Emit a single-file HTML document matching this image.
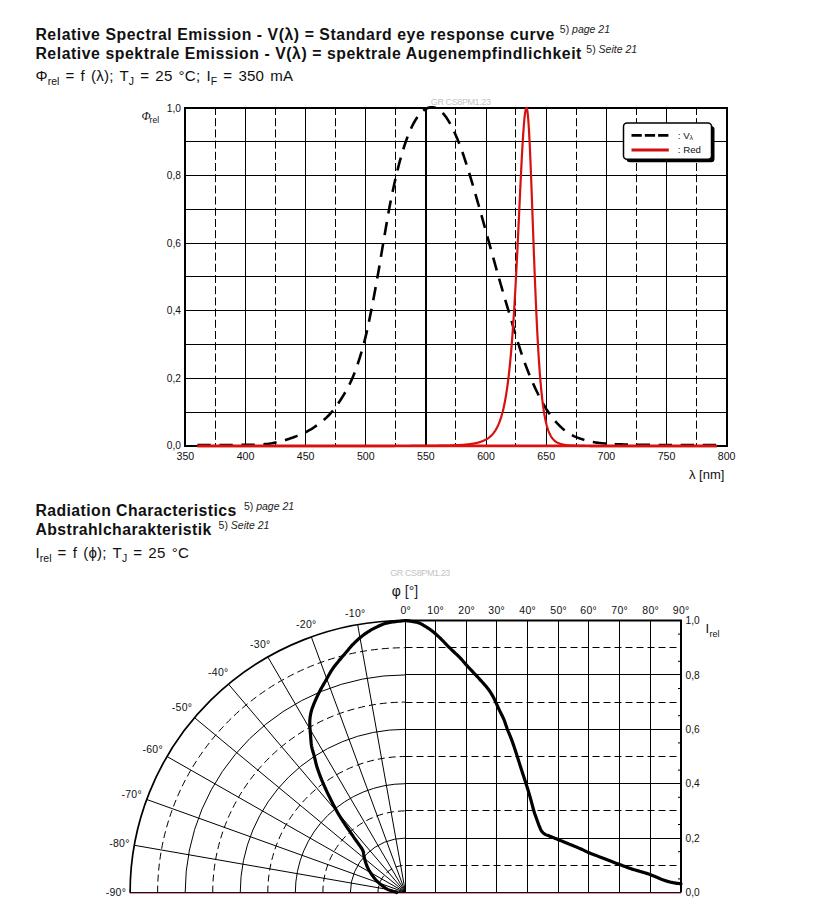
<!DOCTYPE html>
<html><head><meta charset="utf-8"><title>Relative Spectral Emission / Radiation Characteristics</title>
<style>
html,body{margin:0;padding:0;background:#fff;}
body{width:816px;height:923px;position:relative;overflow:hidden;}
svg{position:absolute;left:0;top:0;}
.g1{stroke:#000;stroke-width:1;fill:none;}
.g1b{stroke:#000;stroke-width:2;fill:none;}
.g1d{stroke:#000;stroke-width:1;stroke-dasharray:8 3.2;fill:none;}
.frame{stroke:#000;stroke-width:2;fill:none;}
.vl{stroke:#000;stroke-width:2.6;stroke-dasharray:13.3 8.7;fill:none;}
.vll{stroke:#000;stroke-width:2.8;stroke-dasharray:10.3 3;fill:none;}
.red{stroke:#d81010;stroke-width:2.2;fill:none;stroke-linejoin:round;}
.redl{stroke:#d01010;stroke-width:3;fill:none;}
.g2{stroke:#000;stroke-width:1;fill:none;}
.g2d{stroke:#000;stroke-width:1;stroke-dasharray:7 4;fill:none;}
.base{stroke:#2e0414;stroke-width:1.1;}
.c2{stroke:#000;stroke-width:3.2;fill:none;stroke-linejoin:round;stroke-linecap:round;}
text{font-family:"Liberation Sans",Arial,sans-serif;fill:#111;}
.hb{font-size:15.8px;font-weight:bold;letter-spacing:0.56px;}
.hb2{font-size:15.8px;font-weight:bold;letter-spacing:0.43px;}
.hs{font-size:15.1px;letter-spacing:0.2px;word-spacing:1.7px;}
.hsub{font-size:10.5px;letter-spacing:0;}
.sup{font-size:10.5px;fill:#222;}
.t10{font-size:10.2px;}
.t12{font-size:12px;}
.t13{font-size:13px;}
.t12i{font-size:12px;font-style:italic;font-family:"Liberation Serif",serif;}
.t8{font-size:8.5px;}
.tl{font-size:9.7px;}
.tx{font-size:10.6px;}
.td{font-size:10.5px;letter-spacing:0.3px;}
.t9{font-size:9px;}
.wm{font-size:9px;fill:#c4c4c4;letter-spacing:-0.4px;}
.phi{font-size:14px;}
</style></head><body>
<svg width="816" height="923" viewBox="0 0 816 923">
<line x1="215.50" y1="107.00" x2="215.50" y2="445.80" class="g1d"/>
<line x1="275.50" y1="107.00" x2="275.50" y2="445.80" class="g1d"/>
<line x1="335.50" y1="107.00" x2="335.50" y2="445.80" class="g1d"/>
<line x1="395.50" y1="107.00" x2="395.50" y2="445.80" class="g1d"/>
<line x1="455.50" y1="107.00" x2="455.50" y2="445.80" class="g1d"/>
<line x1="515.50" y1="107.00" x2="515.50" y2="445.80" class="g1d"/>
<line x1="576.50" y1="107.00" x2="576.50" y2="445.80" class="g1d"/>
<line x1="636.50" y1="107.00" x2="636.50" y2="445.80" class="g1d"/>
<line x1="696.50" y1="107.00" x2="696.50" y2="445.80" class="g1d"/>
<line x1="245.50" y1="108.00" x2="245.50" y2="445.80" class="g1"/>
<line x1="305.50" y1="108.00" x2="305.50" y2="445.80" class="g1"/>
<line x1="365.50" y1="108.00" x2="365.50" y2="445.80" class="g1"/>
<line x1="426.00" y1="108.00" x2="426.00" y2="445.80" class="g1b"/>
<line x1="486.50" y1="108.00" x2="486.50" y2="445.80" class="g1"/>
<line x1="546.50" y1="108.00" x2="546.50" y2="445.80" class="g1"/>
<line x1="606.50" y1="108.00" x2="606.50" y2="445.80" class="g1"/>
<line x1="666.50" y1="108.00" x2="666.50" y2="445.80" class="g1"/>
<line x1="185.40" y1="412.50" x2="726.60" y2="412.50" class="g1"/>
<line x1="185.40" y1="378.50" x2="726.60" y2="378.50" class="g1"/>
<line x1="185.40" y1="344.50" x2="726.60" y2="344.50" class="g1"/>
<line x1="185.40" y1="310.50" x2="726.60" y2="310.50" class="g1"/>
<line x1="185.40" y1="276.50" x2="726.60" y2="276.50" class="g1"/>
<line x1="185.40" y1="243.50" x2="726.60" y2="243.50" class="g1"/>
<line x1="185.40" y1="209.50" x2="726.60" y2="209.50" class="g1"/>
<line x1="185.40" y1="175.50" x2="726.60" y2="175.50" class="g1"/>
<line x1="185.40" y1="141.50" x2="726.60" y2="141.50" class="g1"/>
<rect x="185" y="108" width="542" height="338" class="frame"/>
<path d="M197.43,445.00 L198.63,445.00 L199.83,445.00 L201.03,445.00 L202.24,445.00 L203.44,445.00 L204.64,445.00 L205.85,445.00 L207.05,445.00 L208.25,445.00 L209.45,445.00 L210.66,445.00 L211.86,444.99 L213.06,444.99 L214.26,444.99 L215.47,444.99 L216.67,444.99 L217.87,444.99 L219.07,444.99 L220.28,444.99 L221.48,444.99 L222.68,444.99 L223.89,444.98 L225.09,444.98 L226.29,444.98 L227.49,444.98 L228.70,444.98 L229.90,444.97 L231.10,444.97 L232.30,444.96 L233.51,444.96 L234.71,444.95 L235.91,444.95 L237.11,444.94 L238.32,444.94 L239.52,444.93 L240.72,444.92 L241.93,444.91 L243.13,444.89 L244.33,444.88 L245.53,444.87 L246.74,444.85 L247.94,444.84 L249.14,444.83 L250.34,444.81 L251.55,444.78 L252.75,444.75 L253.95,444.72 L255.15,444.68 L256.36,444.64 L257.56,444.59 L258.76,444.54 L259.97,444.48 L261.17,444.42 L262.37,444.35 L263.57,444.26 L264.78,444.17 L265.98,444.06 L267.18,443.94 L268.38,443.81 L269.59,443.65 L270.79,443.46 L271.99,443.26 L273.19,443.03 L274.40,442.79 L275.60,442.53 L276.80,442.27 L278.01,441.99 L279.21,441.70 L280.41,441.40 L281.61,441.08 L282.82,440.75 L284.02,440.41 L285.22,440.06 L286.42,439.69 L287.63,439.31 L288.83,438.92 L290.03,438.51 L291.23,438.09 L292.44,437.67 L293.64,437.23 L294.84,436.79 L296.05,436.35 L297.25,435.90 L298.45,435.43 L299.65,434.93 L300.86,434.42 L302.06,433.89 L303.26,433.34 L304.46,432.76 L305.67,432.16 L306.87,431.54 L308.07,430.89 L309.27,430.21 L310.48,429.51 L311.68,428.79 L312.88,428.03 L314.09,427.24 L315.29,426.43 L316.49,425.59 L317.69,424.73 L318.90,423.85 L320.10,422.95 L321.30,422.02 L322.50,421.06 L323.71,420.04 L324.91,418.97 L326.11,417.88 L327.31,416.73 L328.52,415.53 L329.72,414.26 L330.92,412.92 L332.13,411.53 L333.33,410.07 L334.53,408.55 L335.73,406.96 L336.94,405.30 L338.14,403.58 L339.34,401.79 L340.54,399.94 L341.75,398.05 L342.95,396.13 L344.15,394.18 L345.35,392.17 L346.56,390.06 L347.76,387.81 L348.96,385.44 L350.17,382.98 L351.37,380.39 L352.57,377.65 L353.77,374.74 L354.98,371.65 L356.18,368.41 L357.38,365.01 L358.58,361.43 L359.79,357.64 L360.99,353.70 L362.19,349.60 L363.39,345.30 L364.60,340.75 L365.80,335.89 L367.00,330.69 L368.21,325.17 L369.41,319.40 L370.61,313.46 L371.81,307.41 L373.02,301.25 L374.22,294.91 L375.42,288.43 L376.62,281.82 L377.83,275.09 L379.03,268.17 L380.23,261.05 L381.43,253.84 L382.64,246.64 L383.84,239.55 L385.04,232.50 L386.25,225.41 L387.45,218.41 L388.65,211.62 L389.85,205.16 L391.06,199.06 L392.26,193.23 L393.46,187.65 L394.66,182.27 L395.87,177.06 L397.07,172.01 L398.27,167.15 L399.47,162.49 L400.68,158.04 L401.88,153.82 L403.08,149.82 L404.29,146.06 L405.49,142.50 L406.69,139.14 L407.89,135.95 L409.10,132.94 L410.30,130.12 L411.50,127.49 L412.70,125.03 L413.91,122.74 L415.11,120.62 L416.31,118.69 L417.51,116.92 L418.72,115.31 L419.92,113.85 L421.12,112.56 L422.33,111.43 L423.53,110.45 L424.73,109.61 L425.93,108.89 L427.14,108.29 L428.34,107.82 L429.54,107.48 L430.74,107.27 L431.95,107.20 L433.15,107.26 L434.35,107.45 L435.55,107.77 L436.76,108.25 L437.96,108.89 L439.16,109.70 L440.37,110.66 L441.57,111.78 L442.77,113.04 L443.97,114.43 L445.18,115.95 L446.38,117.61 L447.58,119.41 L448.78,121.35 L449.99,123.41 L451.19,125.62 L452.39,127.97 L453.59,130.46 L454.80,133.06 L456.00,135.78 L457.20,138.61 L458.41,141.56 L459.61,144.63 L460.81,147.82 L462.01,151.11 L463.22,154.53 L464.42,158.08 L465.62,161.73 L466.82,165.46 L468.03,169.25 L469.23,173.12 L470.43,177.08 L471.63,181.11 L472.84,185.19 L474.04,189.29 L475.24,193.41 L476.45,197.58 L477.65,201.78 L478.85,206.01 L480.05,210.26 L481.26,214.54 L482.46,218.85 L483.66,223.18 L484.86,227.51 L486.07,231.85 L487.27,236.18 L488.47,240.52 L489.67,244.87 L490.88,249.20 L492.08,253.53 L493.28,257.86 L494.49,262.20 L495.69,266.52 L496.89,270.82 L498.09,275.09 L499.30,279.31 L500.50,283.51 L501.70,287.68 L502.90,291.83 L504.11,295.96 L505.31,300.07 L506.51,304.14 L507.71,308.19 L508.92,312.24 L510.12,316.30 L511.32,320.38 L512.53,324.48 L513.73,328.56 L514.93,332.60 L516.13,336.57 L517.34,340.48 L518.54,344.36 L519.74,348.18 L520.94,351.89 L522.15,355.48 L523.35,358.93 L524.55,362.26 L525.75,365.49 L526.96,368.63 L528.16,371.70 L529.36,374.69 L530.57,377.60 L531.77,380.43 L532.97,383.19 L534.17,385.88 L535.38,388.51 L536.58,391.07 L537.78,393.56 L538.98,395.98 L540.19,398.32 L541.39,400.58 L542.59,402.76 L543.79,404.87 L545.00,406.90 L546.20,408.86 L547.40,410.72 L548.61,412.51 L549.81,414.21 L551.01,415.85 L552.21,417.44 L553.42,418.95 L554.62,420.40 L555.82,421.79 L557.02,423.12 L558.23,424.39 L559.43,425.61 L560.63,426.78 L561.83,427.88 L563.04,428.94 L564.24,429.94 L565.44,430.89 L566.65,431.80 L567.85,432.64 L569.05,433.44 L570.25,434.19 L571.46,434.88 L572.66,435.51 L573.86,436.10 L575.06,436.65 L576.27,437.16 L577.47,437.64 L578.67,438.08 L579.87,438.49 L581.08,438.88 L582.28,439.26 L583.48,439.63 L584.69,439.99 L585.89,440.34 L587.09,440.67 L588.29,440.97 L589.50,441.26 L590.70,441.53 L591.90,441.78 L593.10,442.01 L594.31,442.23 L595.51,442.43 L596.71,442.61 L597.91,442.77 L599.12,442.92 L600.32,443.07 L601.52,443.20 L602.73,443.31 L603.93,443.42 L605.13,443.52 L606.33,443.61 L607.54,443.71 L608.74,443.79 L609.94,443.87 L611.14,443.94 L612.35,444.01 L613.55,444.08 L614.75,444.14 L615.95,444.19 L617.16,444.24 L618.36,444.29 L619.56,444.34 L620.77,444.38 L621.97,444.42 L623.17,444.46 L624.37,444.50 L625.58,444.53 L626.78,444.56 L627.98,444.59 L629.18,444.62 L630.39,444.65 L631.59,444.67 L632.79,444.69 L633.99,444.71 L635.20,444.73 L636.40,444.75 L637.60,444.77 L638.81,444.78 L640.01,444.80 L641.21,444.81 L642.41,444.82 L643.62,444.84 L644.82,444.85 L646.02,444.86 L647.22,444.87 L648.43,444.88 L649.63,444.89 L650.83,444.89 L652.03,444.90 L653.24,444.91 L654.44,444.92 L655.64,444.92 L656.85,444.93 L658.05,444.93 L659.25,444.94 L660.45,444.94 L661.66,444.95 L662.86,444.95 L664.06,444.95 L665.26,444.96 L666.47,444.96 L667.67,444.96 L668.87,444.96 L670.07,444.97 L671.28,444.97 L672.48,444.97 L673.68,444.97 L674.89,444.98 L676.09,444.98 L677.29,444.98 L678.49,444.98 L679.70,444.98 L680.90,444.98 L682.10,444.98 L683.30,444.98 L684.51,444.99 L685.71,444.99 L686.91,444.99 L688.11,444.99 L689.32,444.99 L690.52,444.99 L691.72,444.99 L692.93,444.99 L694.13,444.99 L695.33,444.99 L696.53,444.99 L697.74,444.99 L698.94,444.99 L700.14,444.99 L701.34,444.99 L702.55,444.99 L703.75,445.00 L704.95,445.00 L706.15,445.00 L707.36,445.00 L708.56,445.00 L709.76,445.00 L710.97,445.00 L712.17,445.00 L713.37,445.00 L714.57,445.00 L715.78,445.00 L716.98,445.00 L718.18,445.00 L719.38,445.00 L720.59,445.00" class="vl"/>
<line x1="197.43" y1="445.9" x2="716.98" y2="445.9" stroke="#e01010" stroke-width="2.8"/>
<path d="M197.43,446.10 L199.43,446.10 L201.43,446.10 L203.43,446.10 L205.43,446.10 L207.43,446.10 L209.43,446.10 L211.43,446.10 L213.43,446.10 L215.43,446.10 L217.43,446.10 L219.43,446.10 L221.43,446.10 L223.43,446.10 L225.43,446.10 L227.43,446.10 L229.43,446.10 L231.43,446.10 L233.43,446.10 L235.43,446.10 L237.43,446.10 L239.43,446.10 L241.43,446.10 L243.43,446.10 L245.43,446.10 L247.43,446.10 L249.43,446.10 L251.43,446.10 L253.43,446.10 L255.43,446.10 L257.43,446.10 L259.43,446.10 L261.43,446.10 L263.43,446.10 L265.43,446.09 L267.43,446.09 L269.43,446.09 L271.43,446.09 L273.43,446.09 L275.43,446.09 L277.43,446.09 L279.43,446.09 L281.43,446.09 L283.43,446.09 L285.43,446.09 L287.43,446.09 L289.43,446.09 L291.43,446.09 L293.43,446.09 L295.43,446.09 L297.43,446.09 L299.43,446.09 L301.43,446.09 L303.43,446.09 L305.43,446.09 L307.43,446.09 L309.43,446.09 L311.43,446.09 L313.43,446.09 L315.43,446.09 L317.43,446.09 L319.43,446.09 L321.43,446.09 L323.43,446.09 L325.43,446.09 L327.43,446.09 L329.43,446.08 L331.43,446.08 L333.43,446.08 L335.43,446.08 L337.43,446.08 L339.43,446.08 L341.43,446.08 L343.43,446.08 L345.43,446.08 L347.43,446.08 L349.43,446.08 L351.43,446.08 L353.43,446.07 L355.43,446.07 L357.43,446.07 L359.43,446.07 L361.43,446.07 L363.43,446.07 L365.43,446.07 L367.43,446.06 L369.43,446.06 L371.43,446.06 L373.43,446.06 L375.43,446.06 L377.43,446.05 L379.43,446.05 L381.43,446.05 L383.43,446.04 L385.43,446.04 L387.43,446.04 L389.43,446.03 L391.43,446.03 L393.43,446.03 L395.43,446.02 L397.43,446.02 L399.43,446.01 L401.43,446.01 L403.43,446.00 L405.43,445.99 L407.43,445.99 L409.43,445.98 L411.43,445.97 L413.43,445.96 L415.43,445.95 L417.43,445.94 L419.43,445.93 L421.43,445.91 L423.43,445.90 L425.43,445.88 L427.43,445.87 L429.43,445.85 L431.43,445.82 L433.43,445.80 L435.43,445.77 L437.43,445.75 L439.43,445.71 L441.43,445.68 L443.43,445.64 L445.43,445.59 L447.43,445.54 L449.43,445.48 L451.43,445.41 L453.43,445.34 L455.43,445.26 L457.43,445.16 L459.43,445.05 L461.43,444.92 L463.43,444.77 L465.43,444.61 L467.43,444.41 L467.93,444.35 L468.43,444.30 L468.93,444.24 L469.43,444.18 L469.93,444.11 L470.43,444.05 L470.93,443.98 L471.43,443.91 L471.93,443.83 L472.43,443.75 L472.93,443.67 L473.43,443.59 L473.93,443.50 L474.43,443.41 L474.93,443.31 L475.43,443.21 L475.93,443.11 L476.43,443.00 L476.93,442.88 L477.43,442.76 L477.93,442.64 L478.43,442.51 L478.93,442.37 L479.43,442.22 L479.93,442.07 L480.43,441.92 L480.93,441.75 L481.43,441.58 L481.93,441.40 L482.43,441.21 L482.93,441.00 L483.43,440.79 L483.93,440.57 L484.43,440.34 L484.93,440.10 L485.43,439.84 L485.93,439.57 L486.43,439.29 L486.93,438.99 L487.43,438.67 L487.93,438.34 L488.43,437.99 L488.93,437.62 L489.43,437.23 L489.93,436.82 L490.43,436.38 L490.93,435.92 L491.43,435.43 L491.93,434.92 L492.43,434.37 L492.93,433.80 L493.43,433.19 L493.93,432.54 L494.43,431.85 L494.93,431.13 L495.43,430.36 L495.93,429.54 L496.43,428.67 L496.93,427.74 L497.43,426.76 L497.93,425.72 L498.43,424.61 L498.93,423.43 L499.43,422.17 L499.93,420.83 L500.43,419.40 L500.93,417.88 L501.43,416.26 L501.93,414.53 L502.43,412.69 L502.93,410.73 L503.43,408.63 L503.93,406.39 L504.43,404.00 L504.93,401.45 L505.43,398.72 L505.93,395.82 L506.43,392.71 L506.93,389.40 L507.43,385.87 L507.93,382.10 L508.43,378.08 L508.93,373.79 L509.43,369.22 L509.93,364.36 L510.43,359.19 L510.93,353.70 L511.43,347.86 L511.93,341.67 L512.43,335.12 L512.93,328.20 L513.43,320.89 L513.93,313.20 L514.43,305.12 L514.93,296.66 L515.43,287.81 L515.93,278.61 L516.43,269.06 L516.93,259.19 L517.43,249.04 L517.93,238.65 L518.43,228.09 L518.93,217.40 L519.43,206.67 L519.93,195.97 L520.43,185.41 L520.93,175.08 L521.43,165.08 L521.93,155.55 L522.43,146.58 L522.93,138.30 L523.43,130.82 L523.93,124.24 L524.43,118.68 L524.93,114.21 L525.43,110.91 L525.93,108.84 L526.43,108.01 L526.93,108.69 L527.43,111.26 L527.93,115.65 L528.43,121.78 L528.93,129.52 L529.43,138.70 L529.93,149.14 L530.43,160.64 L530.93,172.99 L531.43,186.00 L531.93,199.44 L532.43,213.15 L532.93,226.93 L533.43,240.63 L533.93,254.11 L534.43,267.25 L534.93,279.97 L535.43,292.18 L535.93,303.82 L536.43,314.87 L536.93,325.28 L537.43,335.05 L537.93,344.19 L538.43,352.69 L538.93,360.58 L539.43,367.88 L539.93,374.61 L540.43,380.80 L540.93,386.49 L541.43,391.70 L541.93,396.47 L542.43,400.83 L542.93,404.81 L543.43,408.44 L543.93,411.75 L544.43,414.76 L544.93,417.50 L545.43,419.99 L545.93,422.26 L546.43,424.32 L546.93,426.19 L547.43,427.90 L547.93,429.45 L548.43,430.85 L548.93,432.14 L549.43,433.30 L549.93,434.36 L550.43,435.33 L550.93,436.21 L551.43,437.01 L551.93,437.75 L552.43,438.41 L552.93,439.02 L553.43,439.58 L553.93,440.09 L554.43,440.55 L554.93,440.98 L555.43,441.37 L555.93,441.72 L556.43,442.05 L556.93,442.35 L557.43,442.63 L557.93,442.88 L558.43,443.11 L558.93,443.33 L559.43,443.52 L559.93,443.70 L560.43,443.87 L560.93,444.02 L561.43,444.17 L561.93,444.30 L562.43,444.42 L562.93,444.53 L563.43,444.63 L563.93,444.73 L564.43,444.82 L564.93,444.90 L565.43,444.98 L565.93,445.05 L566.43,445.11 L566.93,445.18 L567.43,445.23 L567.93,445.29 L568.43,445.33 L568.93,445.38 L569.43,445.42 L569.93,445.46 L570.43,445.50 L570.93,445.54 L571.43,445.57 L571.93,445.60 L572.43,445.63 L572.93,445.65 L573.43,445.68 L573.93,445.70 L574.43,445.72 L574.93,445.74 L575.43,445.76 L575.93,445.78 L576.43,445.80 L576.93,445.81 L577.43,445.83 L577.93,445.84 L578.43,445.86 L578.93,445.87 L579.43,445.88 L579.93,445.89 L580.43,445.90 L580.93,445.91 L581.43,445.92 L581.93,445.93 L582.43,445.94 L582.93,445.95 L583.43,445.95 L583.93,445.96 L584.43,445.97 L584.93,445.97 L585.43,445.98 L585.93,445.98 L586.43,445.99 L586.93,445.99 L588.93,446.01 L590.93,446.03 L592.93,446.04 L594.93,446.05 L596.93,446.06 L598.93,446.06 L600.93,446.07 L602.93,446.07 L604.93,446.08 L606.93,446.08 L608.93,446.08 L610.93,446.08 L612.93,446.09 L614.93,446.09 L616.93,446.09 L618.93,446.09 L620.93,446.09 L622.93,446.09 L624.93,446.09 L626.93,446.09 L628.93,446.09 L630.93,446.10 L632.93,446.10 L634.93,446.10 L636.93,446.10 L638.93,446.10 L640.93,446.10 L642.93,446.10 L644.93,446.10 L646.93,446.10 L648.93,446.10 L650.93,446.10 L652.93,446.10 L654.93,446.10 L656.93,446.10 L658.93,446.10 L660.93,446.10 L662.93,446.10 L664.93,446.10 L666.93,446.10 L668.93,446.10 L670.93,446.10 L672.93,446.10 L674.93,446.10 L676.93,446.10 L678.93,446.10 L680.93,446.10 L682.93,446.10 L684.93,446.10 L686.93,446.10 L688.93,446.10 L690.93,446.10 L692.93,446.10 L694.93,446.10 L696.93,446.10 L698.93,446.10 L700.93,446.10 L702.93,446.10 L704.93,446.10 L706.93,446.10 L708.93,446.10 L710.93,446.10 L712.93,446.10 L714.93,446.10 L716.93,446.10 L716.98,446.10" class="red"/>
<text x="181" y="449.40" class="t10" text-anchor="end">0,0</text>
<text x="181" y="381.84" class="t10" text-anchor="end">0,2</text>
<text x="181" y="314.28" class="t10" text-anchor="end">0,4</text>
<text x="181" y="246.72" class="t10" text-anchor="end">0,6</text>
<text x="181" y="179.16" class="t10" text-anchor="end">0,8</text>
<text x="181" y="111.60" class="t10" text-anchor="end">1,0</text>
<text x="185.40" y="459.8" class="tx" text-anchor="middle">350</text>
<text x="245.53" y="459.8" class="tx" text-anchor="middle">400</text>
<text x="305.67" y="459.8" class="tx" text-anchor="middle">450</text>
<text x="365.80" y="459.8" class="tx" text-anchor="middle">500</text>
<text x="425.93" y="459.8" class="tx" text-anchor="middle">550</text>
<text x="486.07" y="459.8" class="tx" text-anchor="middle">600</text>
<text x="546.20" y="459.8" class="tx" text-anchor="middle">650</text>
<text x="606.33" y="459.8" class="tx" text-anchor="middle">700</text>
<text x="666.47" y="459.8" class="tx" text-anchor="middle">750</text>
<text x="726.60" y="459.8" class="tx" text-anchor="middle">800</text>
<text x="689" y="478.8" class="t13">&#955; [nm]</text>
<text x="141.5" y="120" class="t12i">&#934;</text><text x="149.6" y="122.6" class="t8">rel</text>
<text x="430.8" y="104.9" class="wm">GR CS8PM1.23</text>
<rect x="626.5" y="125.9" width="88" height="36.4" rx="3.5" fill="#000"/>
<rect x="623.5" y="122.9" width="88" height="36.4" rx="3.5" fill="#fff" stroke="#000" stroke-width="1.5"/>
<line x1="631.5" y1="135.4" x2="668.8" y2="135.4" class="vll"/>
<line x1="631.5" y1="150" x2="668.8" y2="150" class="redl"/>
<text x="677.8" y="138.8" class="tl">: V<tspan font-size="6.5" dy="1.6">&#955;</tspan></text>
<text x="677.8" y="153.3" class="tl">: Red</text>
<line x1="435.50" y1="620.50" x2="435.50" y2="892.50" class="g2"/>
<line x1="466.50" y1="620.50" x2="466.50" y2="892.50" class="g2"/>
<line x1="496.50" y1="620.50" x2="496.50" y2="892.50" class="g2"/>
<line x1="527.50" y1="620.50" x2="527.50" y2="892.50" class="g2"/>
<line x1="558.50" y1="620.50" x2="558.50" y2="892.50" class="g2"/>
<line x1="588.50" y1="620.50" x2="588.50" y2="892.50" class="g2"/>
<line x1="619.50" y1="620.50" x2="619.50" y2="892.50" class="g2"/>
<line x1="650.50" y1="620.50" x2="650.50" y2="892.50" class="g2"/>
<line x1="405.50" y1="865.50" x2="681.00" y2="865.50" class="g2d"/>
<line x1="405.50" y1="838.50" x2="681.00" y2="838.50" class="g2"/>
<line x1="405.50" y1="810.50" x2="681.00" y2="810.50" class="g2d"/>
<line x1="405.50" y1="783.50" x2="681.00" y2="783.50" class="g2"/>
<line x1="405.50" y1="756.50" x2="681.00" y2="756.50" class="g2d"/>
<line x1="405.50" y1="729.50" x2="681.00" y2="729.50" class="g2"/>
<line x1="405.50" y1="702.50" x2="681.00" y2="702.50" class="g2d"/>
<line x1="405.50" y1="674.50" x2="681.00" y2="674.50" class="g2"/>
<line x1="405.50" y1="647.50" x2="681.00" y2="647.50" class="g2d"/>
<line x1="678.00" y1="878.90" x2="681.00" y2="878.90" class="g2"/>
<line x1="678.00" y1="851.70" x2="681.00" y2="851.70" class="g2"/>
<line x1="678.00" y1="824.50" x2="681.00" y2="824.50" class="g2"/>
<line x1="678.00" y1="797.30" x2="681.00" y2="797.30" class="g2"/>
<line x1="678.00" y1="770.10" x2="681.00" y2="770.10" class="g2"/>
<line x1="678.00" y1="742.90" x2="681.00" y2="742.90" class="g2"/>
<line x1="678.00" y1="715.70" x2="681.00" y2="715.70" class="g2"/>
<line x1="678.00" y1="688.50" x2="681.00" y2="688.50" class="g2"/>
<line x1="678.00" y1="661.30" x2="681.00" y2="661.30" class="g2"/>
<line x1="678.00" y1="634.10" x2="681.00" y2="634.10" class="g2"/>
<line x1="405.50" y1="892.50" x2="357.68" y2="624.63" class="g2"/>
<line x1="405.50" y1="892.50" x2="311.31" y2="636.90" class="g2"/>
<line x1="405.50" y1="892.50" x2="267.80" y2="656.94" class="g2"/>
<line x1="405.50" y1="892.50" x2="228.48" y2="684.14" class="g2"/>
<line x1="405.50" y1="892.50" x2="194.53" y2="717.66" class="g2"/>
<line x1="405.50" y1="892.50" x2="167.00" y2="756.50" class="g2"/>
<line x1="405.50" y1="892.50" x2="146.71" y2="799.47" class="g2"/>
<line x1="405.50" y1="892.50" x2="134.28" y2="845.27" class="g2"/>
<path d="M377.96,892.50 A27.54,27.20 0 0 1 405.50,865.30" class="g2d"/>
<path d="M350.42,892.50 A55.08,54.40 0 0 1 405.50,838.10" class="g2"/>
<path d="M322.88,892.50 A82.62,81.60 0 0 1 405.50,810.90" class="g2d"/>
<path d="M295.34,892.50 A110.16,108.80 0 0 1 405.50,783.70" class="g2"/>
<path d="M267.80,892.50 A137.70,136.00 0 0 1 405.50,756.50" class="g2d"/>
<path d="M240.26,892.50 A165.24,163.20 0 0 1 405.50,729.30" class="g2"/>
<path d="M212.72,892.50 A192.78,190.40 0 0 1 405.50,702.10" class="g2d"/>
<path d="M185.18,892.50 A220.32,217.60 0 0 1 405.50,674.90" class="g2"/>
<path d="M157.64,892.50 A247.86,244.80 0 0 1 405.50,647.70" class="g2d"/>
<line x1="405.50" y1="620.50" x2="405.50" y2="892.50" class="g2"/>
<path d="M130.10,892.50 A275.40,272.00 0 0 1 405.50,620.50" class="frame" style="stroke-width:1.7"/>
<path d="M405.00,620.50 L681.00,620.50 L681.00,892.50" class="frame"/>
<line x1="129.60" y1="893.50" x2="681.00" y2="893.50" stroke="#c89aa6" stroke-width="1"/>
<line x1="129.60" y1="892.50" x2="681.00" y2="892.50" class="base"/>
<path d="M405.50,620.50 L406.08,620.58 L406.85,620.69 L407.77,620.82 L408.79,620.96 L409.86,621.11 L410.92,621.27 L411.94,621.43 L412.85,621.59 L413.68,621.73 L414.48,621.86 L415.25,621.99 L416.01,622.13 L416.76,622.29 L417.50,622.47 L418.25,622.69 L419.00,622.95 L419.76,623.26 L420.53,623.63 L421.30,624.03 L422.07,624.46 L422.82,624.90 L423.57,625.35 L424.29,625.79 L425.00,626.21 L425.68,626.61 L426.33,627.00 L426.97,627.39 L427.59,627.78 L428.21,628.17 L428.82,628.58 L429.45,629.02 L430.10,629.48 L430.76,629.96 L431.42,630.46 L432.08,630.98 L432.75,631.52 L433.43,632.07 L434.11,632.64 L434.80,633.22 L435.50,633.83 L436.21,634.45 L436.93,635.09 L437.66,635.74 L438.39,636.41 L439.14,637.10 L439.88,637.81 L440.64,638.53 L441.39,639.27 L442.15,640.04 L442.93,640.84 L443.71,641.67 L444.49,642.51 L445.27,643.36 L446.05,644.20 L446.83,645.01 L447.59,645.80 L448.33,646.54 L449.06,647.26 L449.78,647.96 L450.50,648.65 L451.22,649.34 L451.95,650.04 L452.70,650.76 L453.48,651.51 L454.29,652.28 L455.13,653.07 L456.00,653.87 L456.87,654.69 L457.75,655.51 L458.62,656.35 L459.47,657.19 L460.30,658.04 L461.09,658.88 L461.84,659.72 L462.57,660.56 L463.30,661.42 L464.04,662.29 L464.81,663.19 L465.62,664.13 L466.50,665.11 L467.45,666.14 L468.47,667.24 L469.53,668.37 L470.62,669.53 L471.72,670.69 L472.81,671.85 L473.88,672.99 L474.90,674.08 L475.89,675.15 L476.87,676.21 L477.84,677.25 L478.80,678.28 L479.74,679.30 L480.65,680.30 L481.54,681.28 L482.40,682.24 L483.23,683.17 L484.03,684.06 L484.80,684.93 L485.55,685.78 L486.28,686.63 L487.00,687.50 L487.70,688.39 L488.40,689.32 L489.08,690.25 L489.72,691.18 L490.35,692.11 L490.96,693.06 L491.58,694.05 L492.20,695.10 L492.84,696.24 L493.50,697.48 L494.20,698.85 L494.93,700.37 L495.67,701.98 L496.42,703.65 L497.17,705.32 L497.91,706.97 L498.62,708.54 L499.29,709.99 L499.93,711.32 L500.56,712.57 L501.17,713.77 L501.76,714.92 L502.34,716.05 L502.89,717.18 L503.43,718.33 L503.94,719.51 L504.42,720.72 L504.87,721.94 L505.28,723.16 L505.68,724.39 L506.08,725.62 L506.48,726.85 L506.90,728.07 L507.35,729.30 L507.83,730.52 L508.33,731.75 L508.84,732.97 L509.37,734.20 L509.89,735.42 L510.40,736.64 L510.90,737.87 L511.38,739.09 L511.84,740.33 L512.30,741.59 L512.75,742.86 L513.18,744.12 L513.61,745.37 L514.02,746.59 L514.41,747.76 L514.79,748.88 L515.14,749.91 L515.45,750.85 L515.73,751.72 L516.01,752.57 L516.29,753.44 L516.58,754.36 L516.91,755.37 L517.27,756.50 L517.67,757.74 L518.08,759.05 L518.52,760.43 L518.97,761.87 L519.45,763.37 L519.94,764.93 L520.46,766.54 L520.99,768.20 L521.57,769.97 L522.19,771.90 L522.85,773.92 L523.53,775.98 L524.19,778.02 L524.83,779.98 L525.43,781.80 L525.95,783.43 L526.40,784.85 L526.81,786.12 L527.17,787.26 L527.50,788.32 L527.81,789.33 L528.12,790.33 L528.42,791.34 L528.74,792.40 L529.06,793.49 L529.37,794.56 L529.68,795.62 L529.98,796.67 L530.28,797.74 L530.59,798.82 L530.90,799.94 L531.22,801.11 L531.56,802.34 L531.90,803.65 L532.26,805.01 L532.62,806.38 L532.97,807.74 L533.33,809.05 L533.67,810.30 L534.01,811.44 L534.33,812.48 L534.64,813.43 L534.95,814.31 L535.25,815.15 L535.55,815.97 L535.86,816.79 L536.17,817.63 L536.49,818.52 L536.83,819.46 L537.17,820.44 L537.53,821.44 L537.88,822.44 L538.24,823.43 L538.60,824.39 L538.94,825.29 L539.28,826.13 L539.60,826.91 L539.90,827.65 L540.19,828.34 L540.48,829.01 L540.78,829.63 L541.08,830.22 L541.41,830.77 L541.76,831.30 L542.13,831.78 L542.50,832.22 L542.89,832.62 L543.29,832.98 L543.71,833.33 L544.16,833.65 L544.65,833.97 L545.17,834.29 L545.72,834.60 L546.29,834.87 L546.89,835.12 L547.51,835.36 L548.18,835.61 L548.88,835.87 L549.64,836.15 L550.44,836.47 L551.31,836.82 L552.23,837.19 L553.20,837.59 L554.22,838.00 L555.26,838.42 L556.33,838.85 L557.41,839.29 L558.50,839.73 L559.58,840.17 L560.67,840.62 L561.78,841.07 L562.90,841.53 L564.06,842.01 L565.26,842.50 L566.50,843.01 L567.80,843.54 L569.19,844.11 L570.69,844.71 L572.25,845.33 L573.84,845.97 L575.42,846.61 L576.97,847.24 L578.44,847.86 L579.80,848.44 L580.99,848.97 L582.03,849.46 L582.98,849.93 L583.89,850.39 L584.84,850.86 L585.88,851.36 L587.08,851.91 L588.50,852.52 L590.17,853.20 L592.04,853.94 L594.06,854.73 L596.17,855.54 L598.34,856.37 L600.50,857.20 L602.61,858.00 L604.62,858.77 L606.55,859.52 L608.48,860.26 L610.39,861.00 L612.27,861.73 L614.13,862.45 L615.96,863.15 L617.75,863.83 L619.50,864.48 L621.17,865.11 L622.74,865.71 L624.26,866.29 L625.76,866.85 L627.27,867.40 L628.82,867.96 L630.46,868.52 L632.21,869.11 L634.10,869.70 L636.11,870.29 L638.20,870.89 L640.34,871.49 L642.49,872.10 L644.61,872.72 L646.67,873.35 L648.64,874.00 L650.54,874.70 L652.44,875.44 L654.30,876.22 L656.12,877.00 L657.89,877.76 L659.59,878.48 L661.19,879.14 L662.70,879.72 L664.08,880.21 L665.33,880.64 L666.49,881.01 L667.58,881.35 L668.63,881.65 L669.68,881.92 L670.74,882.18 L671.85,882.44 L673.06,882.68 L674.35,882.90 L675.68,883.11 L677.00,883.29 L678.24,883.45 L679.36,883.58 L680.29,883.70 L681.00,883.80" class="c2"/>
<path d="M405.50,620.50 L404.58,620.60 L403.35,620.73 L401.87,620.88 L400.24,621.05 L398.54,621.23 L396.84,621.43 L395.22,621.63 L393.77,621.84 L392.46,622.03 L391.20,622.23 L389.97,622.42 L388.77,622.63 L387.59,622.86 L386.42,623.12 L385.26,623.43 L384.09,623.78 L382.91,624.19 L381.73,624.66 L380.56,625.17 L379.39,625.71 L378.25,626.27 L377.13,626.83 L376.03,627.39 L374.98,627.92 L373.97,628.44 L373.00,628.95 L372.06,629.45 L371.15,629.95 L370.24,630.47 L369.35,631.01 L368.44,631.57 L367.52,632.17 L366.58,632.79 L365.64,633.44 L364.70,634.10 L363.76,634.79 L362.83,635.50 L361.89,636.23 L360.95,636.98 L360.02,637.76 L359.09,638.55 L358.16,639.37 L357.23,640.21 L356.30,641.06 L355.38,641.94 L354.46,642.84 L353.54,643.77 L352.63,644.71 L351.72,645.69 L350.81,646.71 L349.90,647.76 L349.00,648.83 L348.11,649.90 L347.22,650.96 L346.35,652.01 L345.49,653.02 L344.66,653.99 L343.85,654.94 L343.05,655.86 L342.26,656.78 L341.48,657.70 L340.69,658.64 L339.88,659.61 L339.06,660.61 L338.21,661.66 L337.33,662.74 L336.44,663.84 L335.54,664.96 L334.65,666.09 L333.77,667.23 L332.94,668.37 L332.14,669.51 L331.40,670.63 L330.72,671.74 L330.08,672.84 L329.45,673.95 L328.82,675.09 L328.18,676.27 L327.49,677.51 L326.76,678.82 L325.95,680.23 L325.09,681.72 L324.19,683.27 L323.27,684.86 L322.36,686.47 L321.46,688.07 L320.60,689.64 L319.80,691.15 L319.05,692.62 L318.32,694.08 L317.62,695.53 L316.94,696.96 L316.29,698.36 L315.67,699.74 L315.08,701.09 L314.52,702.41 L314.00,703.68 L313.50,704.91 L313.03,706.09 L312.59,707.26 L312.18,708.41 L311.80,709.57 L311.46,710.75 L311.14,711.95 L310.86,713.15 L310.61,714.32 L310.39,715.48 L310.19,716.66 L310.04,717.87 L309.91,719.14 L309.82,720.49 L309.77,721.93 L309.77,723.51 L309.82,725.22 L309.91,727.02 L310.03,728.88 L310.18,730.73 L310.33,732.55 L310.47,734.28 L310.60,735.89 L310.71,737.38 L310.81,738.78 L310.91,740.12 L311.01,741.41 L311.13,742.68 L311.27,743.92 L311.44,745.17 L311.65,746.44 L311.90,747.71 L312.20,748.97 L312.53,750.21 L312.88,751.45 L313.24,752.68 L313.60,753.92 L313.96,755.16 L314.30,756.41 L314.62,757.67 L314.92,758.94 L315.23,760.22 L315.53,761.49 L315.84,762.76 L316.16,764.03 L316.50,765.29 L316.85,766.53 L317.24,767.77 L317.65,769.03 L318.08,770.28 L318.52,771.52 L318.96,772.74 L319.40,773.93 L319.83,775.08 L320.23,776.17 L320.61,777.16 L320.96,778.07 L321.29,778.91 L321.62,779.73 L321.96,780.56 L322.33,781.43 L322.74,782.39 L323.21,783.46 L323.72,784.63 L324.26,785.87 L324.84,787.17 L325.44,788.52 L326.08,789.93 L326.75,791.38 L327.45,792.88 L328.19,794.41 L328.99,796.05 L329.87,797.83 L330.79,799.68 L331.75,801.56 L332.70,803.42 L333.62,805.21 L334.48,806.86 L335.25,808.34 L335.94,809.62 L336.57,810.75 L337.14,811.77 L337.68,812.71 L338.20,813.59 L338.72,814.46 L339.25,815.34 L339.81,816.27 L340.39,817.22 L340.96,818.14 L341.52,819.06 L342.10,819.96 L342.68,820.87 L343.28,821.80 L343.90,822.75 L344.55,823.74 L345.25,824.78 L345.99,825.87 L346.77,827.00 L347.56,828.14 L348.34,829.27 L349.10,830.36 L349.82,831.40 L350.48,832.36 L351.07,833.23 L351.61,834.02 L352.11,834.77 L352.58,835.48 L353.05,836.17 L353.51,836.86 L354.00,837.56 L354.51,838.30 L355.06,839.09 L355.63,839.90 L356.22,840.72 L356.81,841.55 L357.40,842.37 L357.96,843.15 L358.50,843.90 L358.99,844.60 L359.45,845.24 L359.88,845.85 L360.30,846.43 L360.69,846.97 L361.05,847.49 L361.39,847.99 L361.71,848.46 L361.99,848.92 L362.24,849.36 L362.46,849.76 L362.65,850.13 L362.82,850.49 L362.96,850.83 L363.09,851.16 L363.21,851.50 L363.32,851.85 L363.41,852.19 L363.48,852.51 L363.53,852.83 L363.56,853.14 L363.59,853.47 L363.63,853.81 L363.67,854.17 L363.74,854.57 L363.82,855.01 L363.91,855.47 L364.00,855.96 L364.10,856.47 L364.21,856.98 L364.32,857.51 L364.44,858.05 L364.57,858.58 L364.71,859.12 L364.84,859.65 L364.98,860.20 L365.13,860.75 L365.29,861.32 L365.46,861.89 L365.65,862.49 L365.86,863.10 L366.09,863.75 L366.34,864.44 L366.60,865.15 L366.88,865.87 L367.17,866.59 L367.46,867.28 L367.75,867.95 L368.04,868.57 L368.32,869.12 L368.59,869.61 L368.85,870.07 L369.12,870.51 L369.41,870.96 L369.72,871.42 L370.06,871.93 L370.44,872.51 L370.87,873.16 L371.33,873.87 L371.83,874.62 L372.35,875.39 L372.88,876.17 L373.43,876.94 L373.97,877.67 L374.50,878.35 L375.03,878.99 L375.58,879.62 L376.13,880.22 L376.68,880.80 L377.24,881.36 L377.78,881.90 L378.32,882.42 L378.84,882.92 L379.35,883.38 L379.84,883.81 L380.31,884.22 L380.78,884.60 L381.25,884.97 L381.73,885.34 L382.22,885.71 L382.72,886.09 L383.24,886.48 L383.75,886.88 L384.27,887.27 L384.80,887.66 L385.35,888.05 L385.91,888.42 L386.49,888.77 L387.09,889.10 L387.75,889.41 L388.46,889.71 L389.21,890.00 L389.96,890.27 L390.71,890.52 L391.42,890.76 L392.06,890.97 L392.63,891.16 L393.11,891.33 L393.53,891.46 L393.90,891.57 L394.24,891.66 L394.54,891.75 L394.81,891.82 L395.07,891.89 L395.32,891.97 L395.57,892.06 L395.79,892.14 L395.99,892.21 L396.17,892.29 L396.33,892.35 L396.47,892.41 L396.59,892.46 L396.69,892.50" class="c2"/>
<text x="405.70" y="613.9" class="td" text-anchor="middle">0&#176;</text>
<text x="435.70" y="613.9" class="td" text-anchor="middle">10&#176;</text>
<text x="466.70" y="613.9" class="td" text-anchor="middle">20&#176;</text>
<text x="496.70" y="613.9" class="td" text-anchor="middle">30&#176;</text>
<text x="527.70" y="613.9" class="td" text-anchor="middle">40&#176;</text>
<text x="558.70" y="613.9" class="td" text-anchor="middle">50&#176;</text>
<text x="588.70" y="613.9" class="td" text-anchor="middle">60&#176;</text>
<text x="619.70" y="613.9" class="td" text-anchor="middle">70&#176;</text>
<text x="650.70" y="613.9" class="td" text-anchor="middle">80&#176;</text>
<text x="681.20" y="613.9" class="td" text-anchor="middle">90&#176;</text>
<text x="685.5" y="896.10" class="t10">0,0</text>
<text x="685.5" y="841.70" class="t10">0,2</text>
<text x="685.5" y="787.30" class="t10">0,4</text>
<text x="685.5" y="732.90" class="t10">0,6</text>
<text x="685.5" y="678.50" class="t10">0,8</text>
<text x="685.5" y="624.10" class="t10">1,0</text>
<text x="705.5" y="633" class="t13">I</text><text x="709.5" y="636.5" class="t9">rel</text>
<text x="345.00" y="616.80" class="td">-10&#176;</text>
<text x="296.00" y="628.30" class="td">-20&#176;</text>
<text x="250.00" y="648.30" class="td">-30&#176;</text>
<text x="208.00" y="676.30" class="td">-40&#176;</text>
<text x="171.80" y="710.90" class="td">-50&#176;</text>
<text x="142.40" y="753.00" class="td">-60&#176;</text>
<text x="121.40" y="797.90" class="td">-70&#176;</text>
<text x="109.20" y="846.90" class="td">-80&#176;</text>
<text x="105.70" y="896.00" class="td">-90&#176;</text>
<text x="391.8" y="595.8" class="phi">&#966; <tspan fill="#1a1a40">[&#176;]</tspan></text>
<text x="390.2" y="576" class="wm">GR CS8PM1.23</text>
<text x="35.4" y="39.9" class="hb">Relative Spectral Emission - V(&#955;) = Standard eye response curve</text>
<text x="559.8" y="33.3" class="sup">5) <tspan font-style="italic">page 21</tspan></text>
<text x="35.4" y="58.6" class="hb">Relative spektrale Emission - V(&#955;) = spektrale Augenempfindlichkeit</text>
<text x="586.3" y="53.1" class="sup">5) <tspan font-style="italic">Seite 21</tspan></text>
<text x="35.4" y="81" class="hs">&#934;<tspan class="hsub" dy="3.7">rel</tspan><tspan dy="-3.7"> = f (&#955;); T</tspan><tspan class="hsub" dy="3.7">J</tspan><tspan dy="-3.7"> = 25 &#176;C; I</tspan><tspan class="hsub" dy="3.7">F</tspan><tspan dy="-3.7"> = 350 mA</tspan></text>
<text x="35.4" y="515.8" class="hb2">Radiation Characteristics</text>
<text x="243.9" y="509.5" class="sup">5) <tspan font-style="italic">page 21</tspan></text>
<text x="35.4" y="534.6" class="hb2">Abstrahlcharakteristik</text>
<text x="218.6" y="528.7" class="sup">5) <tspan font-style="italic">Seite 21</tspan></text>
<text x="35.4" y="558.1" class="hs">I<tspan class="hsub" dy="3.7">rel</tspan><tspan dy="-3.7"> = f (&#981;); T</tspan><tspan class="hsub" dy="3.7">J</tspan><tspan dy="-3.7"> = 25 &#176;C</tspan></text>
</svg>
</body></html>
